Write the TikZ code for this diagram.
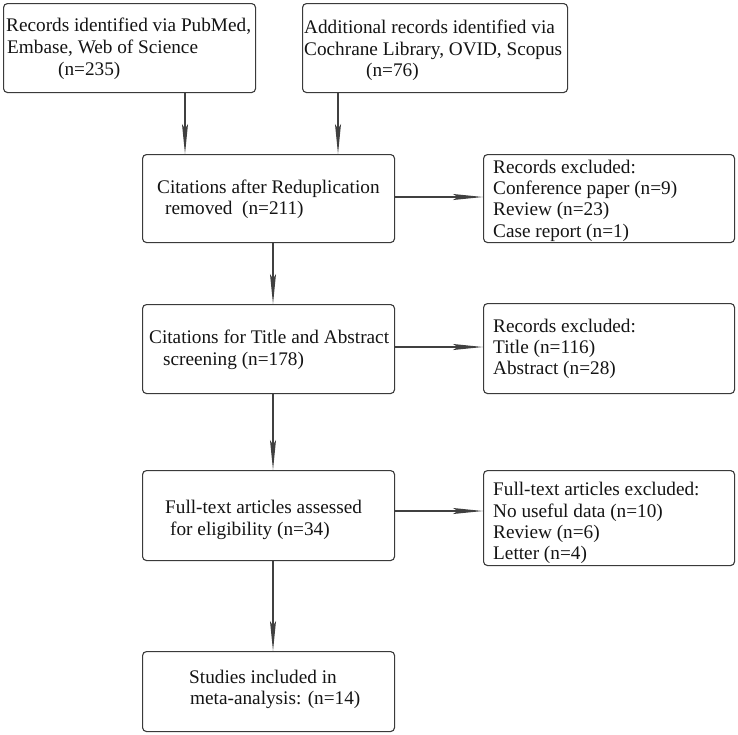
\documentclass[tikz,border=0pt]{standalone}
\usepackage{fontspec}
\setmainfont{Liberation Serif}
\usetikzlibrary{arrows.meta}
\definecolor{boxc}{HTML}{3A3A3A}
\definecolor{linec}{HTML}{404040}
\definecolor{txtc}{HTML}{141414}
\begin{document}
\begin{tikzpicture}[x=1pt,y=-1pt,
  box/.style={draw=boxc, line width=1.1pt, rounded corners=4pt, inner sep=0pt, anchor=north west},
  txt/.style={anchor=base west, inner sep=0pt, font=\fontsize{19.25}{22}\selectfont, text=txtc},
  arr/.style={draw=linec, line width=1.4pt, -{Stealth[length=30pt,width=6pt,inset=5pt]}}]
\fill[white] (0,0) rectangle (738,734);
% boxes
\node[box, minimum width=252pt, minimum height=89pt] (A) at (3,3) {};
\node[box, minimum width=265pt, minimum height=89pt] (B) at (302,3) {};
\node[box, minimum width=252pt, minimum height=88pt] (C) at (142,154) {};
\node[box, minimum width=251pt, minimum height=88pt] (D) at (483,154) {};
\node[box, minimum width=252pt, minimum height=89pt] (E) at (142,304) {};
\node[box, minimum width=251pt, minimum height=90pt] (F) at (483,303) {};
\node[box, minimum width=252pt, minimum height=90pt] (G) at (142,470) {};
\node[box, minimum width=251pt, minimum height=95pt] (H) at (483,470) {};
\node[box, minimum width=252pt, minimum height=80pt] (I) at (142,651) {};
% texts
\node[txt] (a1) at (6,31) {Records identified via PubMed,};
\node[txt] (a2) at (7,53) {Embase, Web of Science};
\node[txt] (a3) at (58,75) {(n=235)};
\node[txt] (b1) at (304,33) {Additional records identified via};
\node[txt] (b2) at (304,55) {Cochrane Library, OVID, Scopus};
\node[txt] (b3) at (366,76) {(n=76)};
\node[txt] (c1) at (157,193) {Citations after Reduplication};
\node[txt] (c2) at (165,214) {removed\hspace{0.25em} (n=211)};
\node[txt] (d1) at (493,173) {Records excluded:};
\node[txt] (d2) at (493,194) {Conference paper (n=9)};
\node[txt] (d3) at (493,215) {Review (n=23)};
\node[txt] (d4) at (493,237) {Case report (n=1)};
\node[txt] (e1) at (149,343) {Citations for Title and Abstract};
\node[txt] (e2) at (163,365) {screening (n=178)};
\node[txt] (f1) at (493,332) {Records excluded:};
\node[txt] (f2) at (493,353) {Title (n=116)};
\node[txt] (f3) at (493,374) {Abstract (n=28)};
\node[txt] (g1) at (165,513) {Full-text articles assessed};
\node[txt] (g2) at (170,535) {for eligibility (n=34)};
\node[txt] (h1) at (493,495) {Full-text articles excluded:};
\node[txt] (h2) at (493,517) {No useful data (n=10)};
\node[txt] (h3) at (493,538) {Review (n=6)};
\node[txt] (h4) at (493,559) {Letter (n=4)};
\node[txt] (i1) at (189,683) {Studies included in};
\node[txt] (i2) at (190,704) {meta-analysis: (n=14)};
% connectors
\coordinate (xa) at (185,0);
\coordinate (xb) at (338,0);
\coordinate (xm) at (273,0);
\coordinate (y1) at (0,197);
\coordinate (y2) at (0,347);
\coordinate (y3) at (0,511);
\draw[arr] (A.south -| xa) -- (C.north -| xa);
\draw[arr] (B.south -| xb) -- (C.north -| xb);
\draw[arr] (C.south -| xm) -- (E.north -| xm);
\draw[arr] (E.south -| xm) -- (G.north -| xm);
\draw[arr] (G.south -| xm) -- (I.north -| xm);
\draw[arr] (C.east |- y1) -- (D.west |- y1);
\draw[arr] (E.east |- y2) -- (F.west |- y2);
\draw[arr] (G.east |- y3) -- (H.west |- y3);
\end{tikzpicture}
\end{document}
